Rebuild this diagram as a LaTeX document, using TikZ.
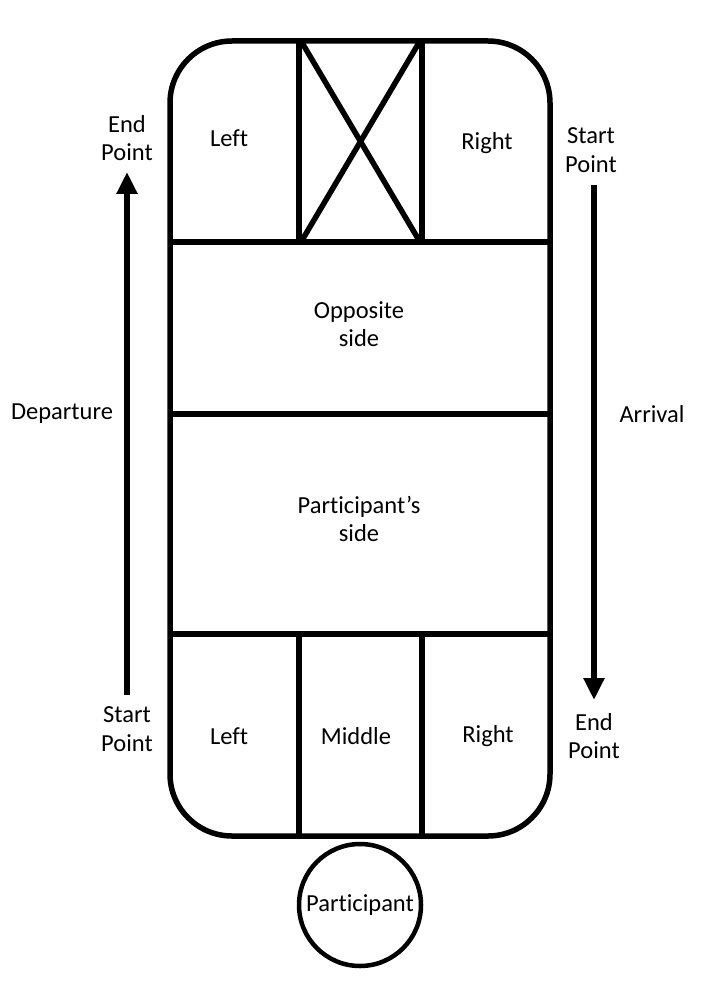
\documentclass[tikz,border=0pt]{standalone}
\usepackage{fontspec}
\setmainfont[Ligatures={NoCommon}]{Carlito}
\usetikzlibrary{arrows.meta}
\begin{document}
\begin{tikzpicture}[x=1pt,y=-1pt,
  thick line/.style={line width=5.5pt},
  lbl/.style={font=\fontsize{24.5}{28.5}\selectfont, align=center, inner sep=0pt},
  arr/.style={line width=5.5pt, -{Triangle[width=20pt,length=22pt]}}]
\useasboundingbox (0,0) rectangle (703,987);
% outer rounded box
\draw[thick line, rounded corners=62pt] (170,41) rectangle (550,836);
% horizontal dividers
\draw[thick line] (170,242) -- (550,242);
\draw[thick line] (170,414) -- (550,414);
\draw[thick line] (170,634) -- (550,634);
% top verticals and cross
\draw[thick line] (299,41) -- (299,242);
\draw[thick line] (422,41) -- (422,242);
\draw[thick line] (301,41) -- (420,242);
\draw[thick line] (420,41) -- (301,242);
% bottom verticals
\draw[thick line] (299,634) -- (299,836);
\draw[thick line] (422,634) -- (422,836);
% participant circle
\node[draw, circle, line width=4.5pt, minimum size=122pt, inner sep=0pt, font=\fontsize{24.5}{28.5}\selectfont] (participant) at (360,905) {Participant};
% texts in boxes
\node[lbl] (tl) at (229,138) {Left};
\node[lbl] (tr) at (487,143) {Right};
\node[lbl] (opp) at (359,324) {Opposite\\side};
\node[lbl] (part) at (359,519) {Participant’s\\side};
\node[lbl] (bl) at (229,736) {Left};
\node[lbl] (bm) at (356,736) {Middle};
\node[lbl] (br) at (488,736) {Right};
% side labels
\node[lbl] (lend) at (127,138) {End\\Point};
\node[lbl] (lstart) at (127,729) {Start\\Point};
\node[lbl] (dep) at (62,414) {Departure};
\node[lbl] (rstart) at (591,150) {Start\\Point};
\node[lbl] (rend) at (594,736) {End\\Point};
\node[lbl] (arrv) at (652,414) {Arrival};
% arrows
\coordinate (la1) at (127,695);
\coordinate (la2) at (127,172);
\coordinate (ra1) at (594,185);
\coordinate (ra2) at (594,700);
\draw[arr] (la1) -- (la2);
\draw[arr] (ra1) -- (ra2);
\end{tikzpicture}
\end{document}
